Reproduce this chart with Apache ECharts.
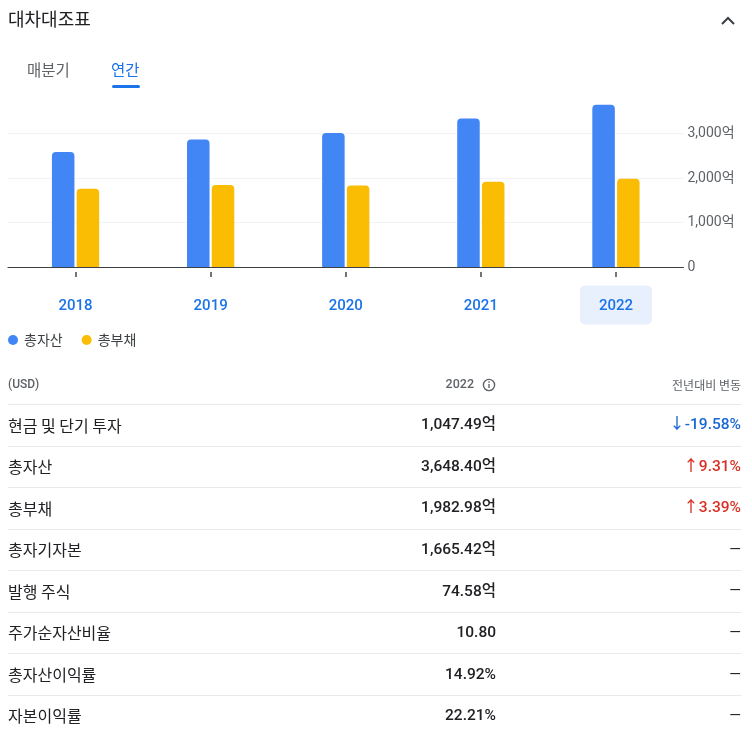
<!DOCTYPE html>
<html><head><meta charset="utf-8">
<script src="https://cdn.jsdelivr.net/npm/echarts@6/dist/echarts.min.js"></script>
<style>html,body{margin:0;padding:0;background:#fff}#c{width:752px;height:750px}</style>
</head><body><div id="c"></div>
<script>
// ---- data ----
const years = ['2018', '2019', '2020', '2021', '2022'];
const totalAssets = [2588.5, 2865.6, 3013.1, 3337.8, 3648.4];      // 억 USD
const totalLiabilities = [1761.3, 1842.3, 1830.1, 1917.9, 1983.0]; // 억 USD
const yTicks = [0, 1000, 2000, 3000];
const seriesNames = ['총자산', '총부채'];
const tabs = ['매분기', '연간'];
const headerCols = ['(USD)', '2022', '전년대비 변동'];
const rowLabels = ['현금 및 단기 투자', '총자산', '총부채', '총자기자본', '발행 주식', '주가순자산비율', '총자산이익률', '자본이익률'];
const rowValues = ['1,047.49억', '3,648.40억', '1,982.98억', '1,665.42억', '74.58억', '10.80', '14.92%', '22.21%'];
const rowChanges = ['-19.58%', '9.31%', '3.39%', '—', '—', '—', '—', '—'];
const rowDirections = ['down', 'up', 'up', '', '', '', '', ''];

const FONT = "Roboto, 'Noto Sans CJK KR', sans-serif";
const KFONT = "'Noto Sans CJK KR', Roboto, sans-serif";
const BLUE = '#4285f4', YELLOW = '#fbbc04', LINK = '#1a73e8';

function txt(text, x, y, opt) {
  opt = opt || {};
  const align = opt.align || 'left';
  return {
    type: 'text', silent: true,
    style: {
      text: text, x: x, y: y,
      fill: opt.fill || '#202124',
      font: (opt.weight || 'normal') + ' ' + (opt.size || 16) + 'px ' + (opt.family || KFONT),
      align: align, verticalAlign: 'middle',
      textAlign: align, textVerticalAlign: 'middle'
    }
  };
}

const graphics = [];
// title + chevron
graphics.push(txt('대차대조표', 8, 19, { size: 18 }));
graphics.push({ type: 'polyline', silent: true, shape: { points: [[722, 24], [728, 18], [734, 24]] },
  style: { stroke: '#3c4043', lineWidth: 2, fill: null } });
// tabs
graphics.push(txt(tabs[0], 27, 70, { size: 15.5, fill: '#5f6368' }));
graphics.push(txt(tabs[1], 111, 70, { size: 15.5, fill: LINK }));
graphics.push({ type: 'rect', silent: true, shape: { x: 112, y: 85, width: 28, height: 3, r: 1.5 }, style: { fill: LINK } });

// table header
graphics.push(txt(headerCols[0], 8, 385, { size: 12, fill: '#5f6368', family: FONT, weight: 500 }));
graphics.push(txt(headerCols[1], 474, 385, { size: 12.5, fill: '#5f6368', family: FONT, weight: 500, align: 'right' }));
graphics.push({ type: 'circle', silent: true, shape: { cx: 489, cy: 385, r: 5.6 }, style: { stroke: '#5f6368', lineWidth: 1.4, fill: null } });
graphics.push({ type: 'rect', silent: true, shape: { x: 488.3, y: 384, width: 1.4, height: 4 }, style: { fill: '#5f6368' } });
graphics.push({ type: 'rect', silent: true, shape: { x: 488.3, y: 381.3, width: 1.4, height: 1.4 }, style: { fill: '#5f6368' } });
graphics.push(txt(headerCols[2], 741, 385, { size: 12, fill: '#5f6368', align: 'right' }));

const ROW0 = 425.5, PITCH = 41.55;
for (let i = 0; i < rowLabels.length; i++) {
  const ly = 404 + i * PITCH;
  graphics.push({ type: 'rect', silent: true, shape: { x: 8, y: Math.round(ly), width: 733, height: 1 }, style: { fill: '#e8eaed' } });
  const cy = ROW0 + i * PITCH;
  graphics.push(txt(rowLabels[i], 8, cy, { size: 16 }));
  graphics.push(txt(rowValues[i], 496, cy, { size: 15.5, weight: 500, family: FONT, align: 'right' }));
  const dir = rowDirections[i];
  if (dir === 'down' || dir === 'up') {
    const col = dir === 'down' ? '#1967d2' : '#d93025';
    graphics.push(txt((dir === 'down' ? '↓' : '↑') + rowChanges[i], 741, cy,
      { size: 15.5, weight: 500, family: FONT, align: 'right', fill: col }));
  } else {
    graphics.push(txt(rowChanges[i], 741, cy, { size: 15, family: FONT, align: 'right' }));
  }
}

const chart = echarts.init(document.getElementById('c'), null, { renderer: 'canvas' });
chart.setOption({
  animation: false,
  backgroundColor: '#fff',
  grid: { left: 8, right: 68.5, top: 98, bottom: 483, containLabel: false, outerBoundsMode: 'none' },
  legend: {
    data: seriesNames, left: 3, top: 328, icon: 'circle', itemWidth: 10, itemHeight: 10, itemGap: 19,
    selectedMode: false,
    textStyle: { fontFamily: KFONT, fontSize: 14, color: '#3c4043', padding: [0, 0, 0, 1] }
  },
  xAxis: [{
    type: 'category', data: years, position: 'bottom',
    axisLine: { lineStyle: { color: '#3c4043', width: 1.2 } },
    axisTick: { show: false },
    splitLine: { show: false },
    axisLabel: {
      margin: 30,
      formatter: function (v, idx) { return (idx === years.length - 1 ? '{hl|' : '{n|') + v + '}'; },
      rich: {
        n: { fontFamily: FONT, fontSize: 15, fontWeight: 500, color: LINK, padding: [13, 19, 11, 19], lineHeight: 16 },
        hl: { fontFamily: FONT, fontSize: 15, fontWeight: 500, color: LINK, padding: [13, 19, 11, 19], lineHeight: 16,
              backgroundColor: '#e8f0fe', borderRadius: 5 }
      }
    }
  }, {
    type: 'category', data: years, position: 'bottom', offset: 5,
    axisLine: { show: false },
    axisTick: { show: true, alignWithLabel: true, length: 5, lineStyle: { color: '#757575', width: 2 } },
    axisLabel: { show: false },
    splitLine: { show: false }
  }],
  yAxis: {
    type: 'value', position: 'right', min: 0, max: 3800, interval: 1000,
    axisLine: { show: false }, axisTick: { show: false },
    splitLine: { show: true, showMaxLine: false, lineStyle: { color: '#f1f3f4', width: 1 } },
    axisLabel: {
      showMaxLabel: false, margin: 4,
      fontFamily: FONT, fontSize: 14, color: '#5f6368',
      formatter: function (v) { return yTicks.indexOf(v) < 0 ? '' : (v === 0 ? '0' : v.toLocaleString('en-US') + '억'); }
    }
  },
  series: [{
    name: seriesNames[0], type: 'bar', xAxisIndex: 0, data: totalAssets,
    barWidth: 22.5, barGap: '10%', itemStyle: { color: BLUE, borderRadius: [4, 4, 0, 0] }
  }, {
    name: seriesNames[1], type: 'bar', xAxisIndex: 0, data: totalLiabilities,
    barWidth: 22.5, barGap: '10%', itemStyle: { color: YELLOW, borderRadius: [4, 4, 0, 0] }
  }],
  graphic: graphics
});
</script></body></html>
